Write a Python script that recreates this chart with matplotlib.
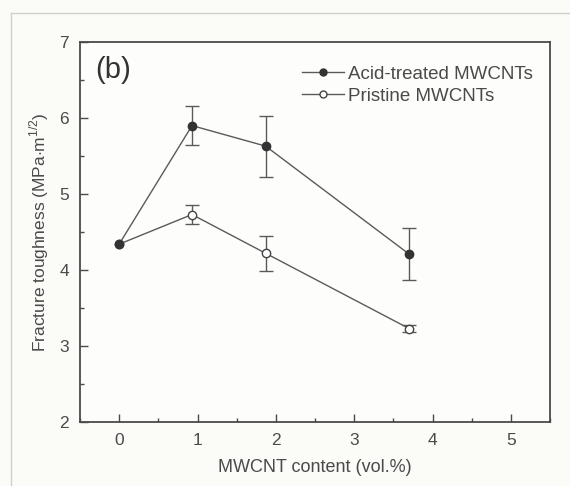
import matplotlib
matplotlib.use("Agg")
import matplotlib.pyplot as plt
from matplotlib.ticker import MultipleLocator
from matplotlib.lines import Line2D

plt.rcParams['font.family'] = ['Liberation Sans', 'DejaVu Sans']
plt.rcParams['mathtext.fontset'] = 'custom'
plt.rcParams['mathtext.rm'] = 'Liberation Sans'

content = [0, 0.93, 1.87, 3.7]
acid_mean = [4.34, 5.90, 5.63, 4.21]
acid_err = [0.0, 0.26, 0.40, 0.34]
pristine_mean = [4.34, 4.73, 4.22, 3.23]
pristine_err = [0.0, 0.12, 0.23, 0.05]
series_labels = ['Acid-treated MWCNTs', 'Pristine MWCNTs']

ink = '#4a4a4a'
line_c = '#5a5a5a'

fig = plt.figure(figsize=(5.70, 4.86), dpi=100, facecolor='#fbfbf8')

# faint outer frame of the panel
fig.add_artist(Line2D([11/570, 11/570], [0, 1 - 13/486], transform=fig.transFigure,
                      color='#cfcfcf', lw=1.0))
fig.add_artist(Line2D([11/570, 1], [1 - 13/486, 1 - 13/486], transform=fig.transFigure,
                      color='#cfcfcf', lw=1.0))

ax = fig.add_axes([80/570, 64/486, 470/570, 380/486])
ax.set_facecolor('#fdfdfb')

acid_style = dict(color=line_c, lw=1.0, marker='o', ms=6, mfc='#333333', mec='#333333')
pristine_style = dict(color=line_c, lw=1.0, marker='o', ms=6, mfc='white',
                      mec='#444444', mew=1.0)
err_style = dict(fmt='none', ecolor=line_c, elinewidth=1.0, capsize=5,
                 capthick=1.0, zorder=2)


def draw_errorbars(x, y, err):
    # only points with a measurable spread get a bar
    keep = [i for i, e in enumerate(err) if e > 0]
    ax.errorbar([x[i] for i in keep], [y[i] for i in keep],
                yerr=[err[i] for i in keep], **err_style)


draw_errorbars(content, acid_mean, acid_err)
draw_errorbars(content, pristine_mean, pristine_err)
ax.plot(content, pristine_mean, zorder=3, **pristine_style)
ax.plot(content, acid_mean, zorder=4, **acid_style)

ax.set_xlim(-0.5, 5.5)
ax.set_ylim(2, 7)
ax.xaxis.set_major_locator(MultipleLocator(1))
ax.xaxis.set_minor_locator(MultipleLocator(0.5))
ax.yaxis.set_major_locator(MultipleLocator(1))
ax.yaxis.set_minor_locator(MultipleLocator(0.5))
ax.tick_params(which='both', direction='in', top=False, right=False,
               colors=ink, labelcolor=ink, labelsize=12.5)
ax.tick_params(which='major', length=6, width=1.0, pad=8)
ax.tick_params(which='minor', length=3, width=1.0)
for s in ax.spines.values():
    s.set_color(ink)
    s.set_linewidth(1.3)

ax.set_xlabel('MWCNT content (vol.%)', fontsize=13, color=ink, labelpad=8)
ax.set_ylabel(r'Fracture toughness (MPa$\cdot$m$^{1/2}$)', fontsize=12.5,
              color=ink, labelpad=6)

ax.text(0.032, 0.926, '(b)', transform=ax.transAxes, fontsize=21,
        color='#333333', va='center', ha='left')

handles = [Line2D([], [], **{**acid_style, 'ms': 5}),
           Line2D([], [], **{**pristine_style, 'ms': 5})]
leg = ax.legend(handles, series_labels, loc='upper right',
                bbox_to_anchor=(1.0, 0.982), frameon=False,
                fontsize=13.5, handlelength=2.2, handletextpad=0.25,
                labelspacing=0.25)
for t in leg.get_texts():
    t.set_color(ink)

fig.savefig('out.png', dpi=100, facecolor=fig.get_facecolor())
